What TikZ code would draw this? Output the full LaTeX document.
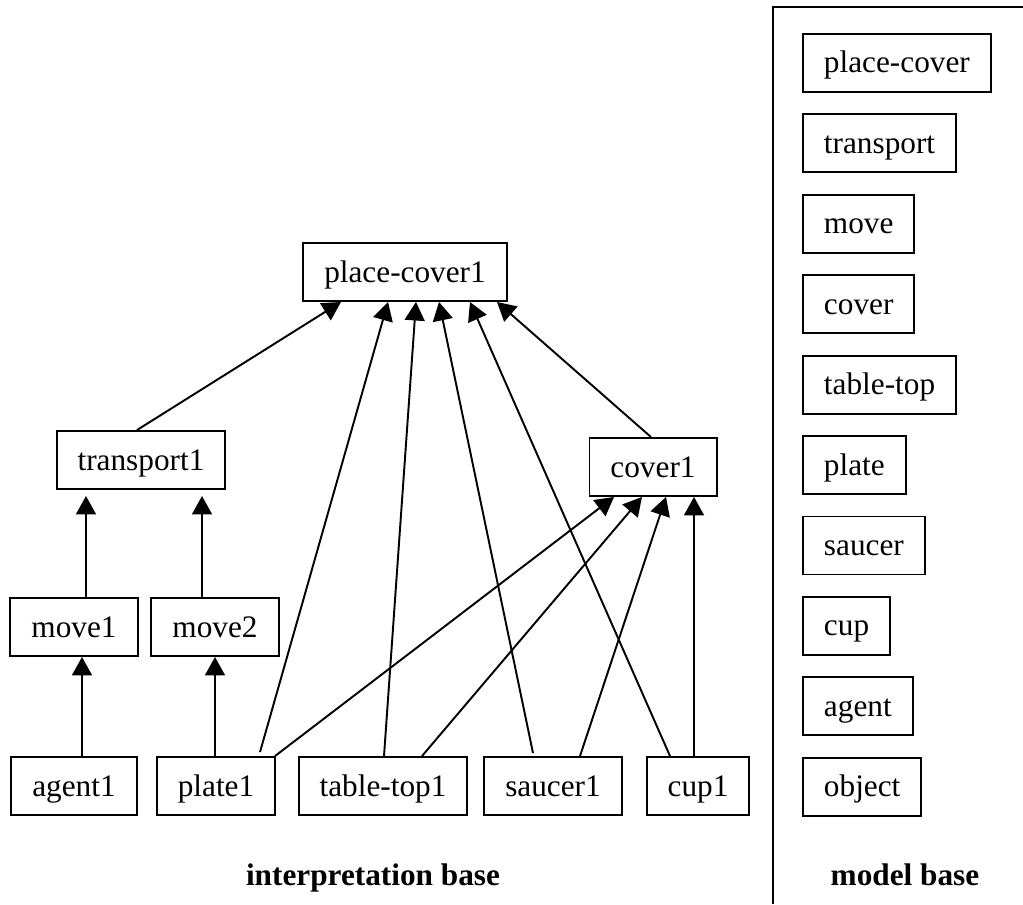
\documentclass[tikz,border=0pt]{standalone}
\usepackage{fontspec}
\setmainfont{Liberation Serif}
\usetikzlibrary{arrows.meta}
\usetikzlibrary{positioning}
\usetikzlibrary{calc}

\begin{document}
\begin{tikzpicture}[x=0.02cm,y=-0.02cm,node distance=0.41cm,
  every node/.style={draw,line width=1.1pt,minimum height=1.16cm,inner xsep=0.42cm,
    text height=15.3pt,text depth=3.9pt,font=\fontsize{17.8}{21}\selectfont},
  part/.style={line width=1.1pt,-{Triangle[length=0.37cm,width=0.4cm]}}]
  \useasboundingbox (0,0) rectangle (1023,904);

  % interpretation base
  \node (pc1) at (405,272){place-cover1};
  \node (tr1) at (141,460){transport1};
  \node (cv1) at (653,467){cover1};
  \node (mv1) at (74,627){move1};
  \node (mv2) at (215,627){move2};
  \node (ag1) at (74,786){agent1};
  \node (pl1) at (216,786){plate1};
  \node (tt1) at (383,786){table-top1};
  \node (sc1) at (553,786){saucer1};
  \node (cp1) at (698,786){cup1};
  \node (ib) at (373,885)[draw=none,anchor=base,font=\fontsize{17.8}{21}\selectfont\bfseries]{interpretation base};

  \draw[part]($(tr1.north)+(-4,0)$)--($(pc1.south)+(-64,0)$);
  \draw[part]($(pl1.north)+(44,-4)$)--($(pc1.south)+(-17,0)$);
  \draw[part]($(tt1.north)+(1,0)$)--($(pc1.south)+(11,0)$);
  \draw[part]($(sc1.north)+(-20,-3)$)--($(pc1.south)+(34,0)$);
  \draw[part]($(cp1.north)+(-28,0)$)--($(pc1.south)+(65,0)$);
  \draw[part]($(cv1.north)+(-2,0)$)--($(pc1.south)+(92,0)$);
  \draw[part]($(pl1.north)+(59,0)$)--($(cv1.south)+(-39,0)$);
  \draw[part]($(tt1.north)+(39,0)$)--($(cv1.south)+(-11,0)$);
  \draw[part]($(sc1.north)+(27,0)$)--($(cv1.south)+(13,0)$);
  \draw[part]($(cp1.north)+(-4,0)$)--($(cv1.south)+(41,0)$);
  \draw[part]($(ag1.north)+(8,0)$)--($(mv1.south)+(8,0)$);
  \draw[part]($(pl1.north)+(-1,0)$)--($(mv2.south)+(0,0)$);
  \draw[part]($(mv1.north)+(12,0)$)--($(tr1.south)+(-55,6)$);
  \draw[part]($(mv2.north)+(-13,0)$)--($(tr1.south)+(61,6)$);

  % model base
  \draw[line width=1.1pt](773,904)--(773,7)--(1023,7);
  \node (mpc) at (802,33)[anchor=north west]{place-cover};
  \node[below right=0.41cm and 0cm of mpc.south west](mtr){transport};
  \node[below right=0.41cm and 0cm of mtr.south west](mmv){move};
  \node[below right=0.41cm and 0cm of mmv.south west](mcv){cover};
  \node[below right=0.41cm and 0cm of mcv.south west](mtt){table-top};
  \node[below right=0.41cm and 0cm of mtt.south west](mpl){plate};
  \node[below right=0.41cm and 0cm of mpl.south west](msc){saucer};
  \node[below right=0.41cm and 0cm of msc.south west](mcp){cup};
  \node[below right=0.41cm and 0cm of mcp.south west](mag){agent};
  \node[below right=0.41cm and 0cm of mag.south west](mob){object};
  \node (mb) at (905,885)[draw=none,anchor=base,font=\fontsize{17.8}{21}\selectfont\bfseries]{model base};
\end{tikzpicture}
\end{document}
